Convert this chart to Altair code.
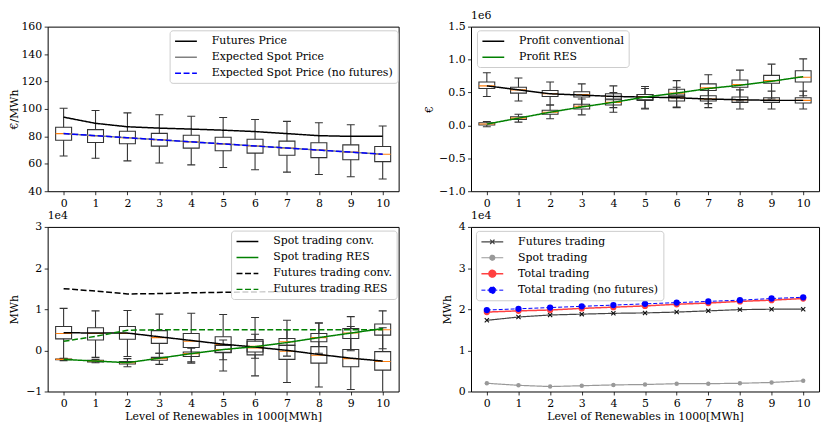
import altair as alt
import pandas as pd

levels = list(range(11))

# ---------- Panel 1: prices (EUR/MWh)
futures_price = [94.0, 89.5, 87.0, 86.0, 85.3, 84.5, 83.5, 82.0, 80.5, 80.0, 80.0]
expected_spot = [82.0, 80.5, 79.0, 77.5, 76.0, 74.5, 73.0, 71.5, 70.0, 68.5, 67.0]
expected_spot_nofut = [82.0, 80.5, 79.0, 77.5, 76.0, 74.5, 73.0, 71.5, 70.0, 68.5, 67.0]
price_med = [82.0, 80.5, 79.0, 77.5, 76.0, 74.5, 73.0, 71.5, 70.0, 68.5, 67.0]
price_q1 = [77.2, 75.5, 74.6, 72.9, 71.4, 69.5, 67.8, 66.2, 64.5, 63.0, 61.6]
price_q3 = [86.6, 84.9, 83.7, 82.2, 80.8, 79.4, 77.9, 76.5, 75.3, 73.8, 72.6]
price_lo = [65.7, 64.0, 62.1, 60.6, 59.2, 57.3, 55.6, 53.9, 52.2, 50.6, 48.9]
price_hi = [100.5, 98.8, 97.1, 95.7, 94.7, 93.8, 92.3, 90.9, 89.9, 88.5, 87.5]

# ---------- Panel 2: profits (in units of 1e6 EUR)
profit_conv = [0.60, 0.54, 0.48, 0.46, 0.44, 0.43, 0.42, 0.40, 0.39, 0.38, 0.38]
profit_res = [0.02, 0.11, 0.20, 0.28, 0.35, 0.43, 0.49, 0.56, 0.61, 0.67, 0.74]
pconv_med = [0.60, 0.54, 0.48, 0.47, 0.44, 0.43, 0.42, 0.40, 0.39, 0.38, 0.38]
pconv_q1 = [0.56, 0.49, 0.44, 0.43, 0.39, 0.38, 0.37, 0.37, 0.35, 0.35, 0.34]
pconv_q3 = [0.66, 0.58, 0.53, 0.51, 0.48, 0.47, 0.46, 0.45, 0.43, 0.42, 0.42]
pconv_lo = [0.44, 0.37, 0.31, 0.29, 0.27, 0.25, 0.27, 0.27, 0.25, 0.25, 0.25]
pconv_hi = [0.80, 0.72, 0.66, 0.63, 0.60, 0.59, 0.58, 0.56, 0.54, 0.52, 0.52]
pres_med = [0.02, 0.11, 0.20, 0.29, 0.35, 0.43, 0.49, 0.57, 0.62, 0.68, 0.73]
pres_q1 = [0.005, 0.09, 0.17, 0.25, 0.31, 0.39, 0.44, 0.53, 0.58, 0.64, 0.66]
pres_q3 = [0.04, 0.13, 0.23, 0.32, 0.40, 0.47, 0.55, 0.63, 0.69, 0.76, 0.83]
pres_lo = [-0.02, 0.05, 0.10, 0.16, 0.20, 0.26, 0.28, 0.33, 0.37, 0.40, 0.45]
pres_hi = [0.06, 0.17, 0.31, 0.40, 0.50, 0.56, 0.68, 0.77, 0.84, 0.93, 1.01]

# ---------- Panel 3: spot / futures trading per player (in units of 1e4 MWh)
spot_conv = [0.43, 0.42, 0.42, 0.33, 0.24, 0.15, 0.08, 0.00, -0.10, -0.19, -0.26]
spot_res = [-0.22, -0.26, -0.30, -0.19, -0.08, 0.02, 0.09, 0.19, 0.31, 0.42, 0.53]
fut_conv = [1.50, 1.44, 1.37, 1.38, 1.40, 1.41, 1.42, 1.43, 1.44, 1.45, 1.46]
fut_res = [0.22, 0.34, 0.49, 0.50, 0.50, 0.50, 0.50, 0.50, 0.50, 0.50, 0.50]
sconv_med = [0.41, 0.41, 0.41, 0.31, 0.22, 0.14, 0.06, -0.02, -0.12, -0.20, -0.27]
sconv_q1 = [0.28, 0.25, 0.27, 0.17, 0.07, -0.05, -0.11, -0.22, -0.31, -0.40, -0.48]
sconv_q3 = [0.58, 0.55, 0.58, 0.48, 0.41, 0.33, 0.26, 0.12, 0.09, 0.02, -0.03]
sconv_lo = [-0.20, -0.17, -0.15, -0.07, -0.28, -0.50, -0.62, -0.78, -0.89, -0.95, -1.10]
sconv_hi = [1.02, 0.96, 0.97, 0.88, 0.90, 0.87, 0.80, 0.73, 0.67, 0.58, 0.55]
sres_med = [-0.22, -0.26, -0.30, -0.20, -0.08, 0.02, 0.10, 0.21, 0.31, 0.42, 0.50]
sres_q1 = [-0.23, -0.28, -0.33, -0.24, -0.15, -0.06, -0.04, 0.12, 0.21, 0.29, 0.37]
sres_q3 = [-0.21, -0.24, -0.27, -0.17, -0.04, 0.12, 0.22, 0.29, 0.41, 0.53, 0.64]
sres_lo = [-0.25, -0.30, -0.40, -0.34, -0.31, -0.23, -0.19, -0.14, -0.07, -0.01, 0.04]
sres_hi = [-0.19, -0.22, -0.20, -0.07, 0.05, 0.25, 0.39, 0.50, 0.66, 0.82, 0.96]

# ---------- Panel 4: market volumes (in units of 1e4 MWh)
futures_trading = [1.73, 1.81, 1.86, 1.88, 1.90, 1.91, 1.93, 1.96, 1.99, 2.00, 2.00]
spot_trading = [0.20, 0.15, 0.12, 0.14, 0.16, 0.17, 0.19, 0.19, 0.20, 0.22, 0.26]
total_trading = [1.93, 1.96, 1.98, 2.02, 2.05, 2.08, 2.12, 2.15, 2.19, 2.22, 2.26]
total_nofut = [1.98, 2.01, 2.04, 2.07, 2.10, 2.13, 2.16, 2.19, 2.22, 2.26, 2.29]

FONT = "DejaVu Serif"
FS = 11
XS = alt.Scale(domain=[-0.5, 10.5], nice=False, zero=False)
EDGE = "#333333"
MED = "#ff7f0e"
DASH = [6, 2.6]
SOLID = [1, 0]
XTITLE = "Level of Renewables in 1000[MWh]"
ROWPAD = 4.1
LEGY = 3.7
HANDLE = "M-2,0H2"
INDEP = dict(color="independent", strokeDash="independent", strokeWidth="independent",
             shape="independent")


def xaxis(title):
    return alt.Axis(values=levels, format="d", title=title, titlePadding=2)


def yaxis(title, values, fmt, tpad):
    return alt.Axis(values=values, format=fmt, title=title, titlePadding=tpad)


def box_layers(med, q1, q3, lo, hi, xax, yax, ysc):
    df = pd.DataFrame({"level": levels, "med": med, "q1": q1, "q3": q3, "lo": lo, "hi": hi})
    base = alt.Chart(df).transform_calculate(
        xl="datum.level - 0.25", xr="datum.level + 0.25",
        cl="datum.level - 0.125", cr="datum.level + 0.125")

    def X(f):
        return alt.X(f + ":Q", scale=XS, axis=xax)

    def Y(f):
        return alt.Y(f + ":Q", scale=ysc, axis=yax)

    box = base.mark_rect(fillOpacity=0, stroke=EDGE, strokeWidth=1.1, clip=True).encode(
        x=X("xl"), x2=alt.X2("xr"), y=Y("q1"), y2=alt.Y2("q3"))
    wu = base.mark_rule(color=EDGE, strokeWidth=1.1, clip=True).encode(
        x=X("level"), y=Y("q3"), y2=alt.Y2("hi"))
    wd = base.mark_rule(color=EDGE, strokeWidth=1.1, clip=True).encode(
        x=X("level"), y=Y("lo"), y2=alt.Y2("q1"))
    ch = base.mark_rule(color=EDGE, strokeWidth=1.1, clip=True).encode(
        x=X("cl"), x2=alt.X2("cr"), y=Y("hi"))
    cl = base.mark_rule(color=EDGE, strokeWidth=1.1, clip=True).encode(
        x=X("cl"), x2=alt.X2("cr"), y=Y("lo"))
    md = base.mark_rule(color=MED, strokeWidth=1.1, clip=True).encode(
        x=X("xl"), x2=alt.X2("xr"), y=Y("med"))
    return [box, wu, wd, ch, cl, md]


def long_df(names, arrays):
    rows = []
    for n, arr in zip(names, arrays):
        for lv, v in zip(levels, arr):
            rows.append({"level": lv, "value": v, "series": n})
    return pd.DataFrame(rows)


def make_legend(x, y, **kw):
    opts = dict(title=None, orient="none", legendX=x, legendY=y, symbolType=HANDLE,
                symbolSize=121, symbolOffset=5.5, labelFont=FONT, labelFontSize=FS,
                labelColor="black", labelOffset=19.5, padding=4.5, rowPadding=ROWPAD,
                labelLimit=400, fillColor="rgba(255,255,255,0.8)", strokeColor="#cccccc",
                cornerRadius=3)
    opts.update(kw)
    return alt.Legend(**opts)


def line_layer(names, arrays, colors, dashes, xax, yax, ysc, leg, widths=None, sw=1.5):
    df = long_df(names, arrays)
    enc = dict(
        x=alt.X("level:Q", scale=XS, axis=xax),
        y=alt.Y("value:Q", scale=ysc, axis=yax),
        color=alt.Color("series:N", scale=alt.Scale(domain=names, range=colors), legend=leg),
        strokeDash=alt.StrokeDash("series:N", scale=alt.Scale(domain=names, range=dashes), legend=leg),
    )
    if widths is not None:
        enc["strokeWidth"] = alt.StrokeWidth(
            "series:N", scale=alt.Scale(type="ordinal", domain=names, range=widths), legend=leg)
        return alt.Chart(df).mark_line(clip=True).encode(**enc)
    return alt.Chart(df).mark_line(clip=True, strokeWidth=sw).encode(**enc)


def title_params(text):
    return alt.TitleParams(text, anchor="start", frame="group", font=FONT, fontSize=FS,
                           fontWeight="normal", color="black", offset=0)


def titled(layers, text, w, h):
    return alt.layer(*layers).properties(width=w, height=h, title=title_params(text))


W_L, W_R, H = 354, 351, 166

# ---- top-left
xa = xaxis(None)
ya = yaxis("€/MWh", [40, 60, 80, 100, 120, 140, 160], "d", 1)
ys = alt.Scale(domain=[40, 160], nice=False, zero=False)
n1 = ["Futures Price", "Expected Spot Price", "Expected Spot Price (no futures)"]
tl_lines = line_layer(n1, [futures_price, expected_spot, expected_spot_nofut],
                      ["#000000", "#808080", "#0000ff"], [SOLID, SOLID, DASH],
                      xa, ya, ys, make_legend(123, LEGY))
tl = titled(box_layers(price_med, price_q1, price_q3, price_lo, price_hi, xa, ya, ys) + [tl_lines],
            " ", W_L, H)

# ---- top-right
ya = yaxis("€", [-1.0, -0.5, 0.0, 0.5, 1.0, 1.5], ".1f", 4)
ys = alt.Scale(domain=[-1.0, 1.5], nice=False, zero=False)
n2 = ["Profit conventional", "Profit RES"]
tr_lines = line_layer(n2, [profit_conv, profit_res], ["#000000", "#008000"], [SOLID, SOLID],
                      xa, ya, ys, make_legend(6, LEGY))
tr = titled(box_layers(pconv_med, pconv_q1, pconv_q3, pconv_lo, pconv_hi, xa, ya, ys)
            + box_layers(pres_med, pres_q1, pres_q3, pres_lo, pres_hi, xa, ya, ys)
            + [tr_lines], "1e6", W_R, H)

# ---- bottom-left
xa = xaxis(XTITLE)
ya = yaxis("MWh", [-1, 0, 1, 2, 3], "d", 6)
ys = alt.Scale(domain=[-1, 3], nice=False, zero=False)
n3 = ["Spot trading conv.", "Spot trading RES", "Futures trading conv.", "Futures trading RES"]
bl_lines = line_layer(n3, [spot_conv, spot_res, fut_conv, fut_res],
                      ["#000000", "#008000", "#000000", "#008000"], [SOLID, SOLID, DASH, DASH],
                      xa, ya, ys, make_legend(185, LEGY))
bl = titled(box_layers(sconv_med, sconv_q1, sconv_q3, sconv_lo, sconv_hi, xa, ya, ys)
            + box_layers(sres_med, sres_q1, sres_q3, sres_lo, sres_hi, xa, ya, ys)
            + [bl_lines], "1e4", W_L, H)

# ---- bottom-right
ya = yaxis("MWh", [0, 1, 2, 3, 4], "d", 6)
ys = alt.Scale(domain=[0, 4], nice=False, zero=False)
n4 = ["Futures trading", "Spot trading", "Total trading", "Total trading (no futures)"]
arr4 = [futures_trading, spot_trading, total_trading, total_nofut]
c4 = ["#444444", "#999999", "#ff4040", "#0000ff"]
cscale4 = alt.Scale(domain=n4, range=c4)
br_leg = make_legend(5, 4)
br_lines = line_layer(n4, arr4, c4, [SOLID, SOLID, SOLID, [4, 2]], xa, ya, ys, br_leg,
                      widths=[1.2, 1.2, 1.5, 1.0])
LEG_SHAPES = [
    "M-2,0H2M-0.4,-0.4L0.4,0.4M-0.4,0.4L0.4,-0.4",
    "M-2,0H2M-0.45,0A0.45,0.45,0,1,1,0.45,0A0.45,0.45,0,1,1,-0.45,0Z",
    "M-2,0H2M-0.62,0A0.62,0.62,0,1,1,0.62,0A0.62,0.62,0,1,1,-0.62,0Z",
    "M-2,0H2M-0.62,0A0.62,0.62,0,1,1,0.62,0A0.62,0.62,0,1,1,-0.62,0Z",
]
df4 = long_df(n4, arr4)
XEN = alt.X("level:Q", scale=XS, axis=xa)
YEN = alt.Y("value:Q", scale=ys, axis=ya)
# legend-only layer (no rows drawn): supplies the per-entry marker shapes of the legend
br_leg_shapes = alt.Chart(df4).transform_filter("false").mark_point(filled=True, opacity=1).encode(
    x=XEN, y=YEN,
    color=alt.Color("series:N", scale=cscale4, legend=br_leg),
    shape=alt.Shape("series:N", scale=alt.Scale(domain=n4, range=LEG_SHAPES), legend=br_leg),
)
br_x = alt.Chart(df4).transform_filter(alt.datum.series == n4[0]).mark_point(
    shape="M-1,-1L1,1M-1,1L1,-1", size=18, color="#111111", strokeWidth=1.1, opacity=1, clip=True
).encode(x=XEN, y=YEN)
br_spot = alt.Chart(df4).transform_filter(alt.datum.series == n4[1]).mark_circle(
    size=20, opacity=1, clip=True).encode(
    x=XEN, y=YEN, color=alt.Color("series:N", scale=cscale4, legend=None))
br_tot = alt.Chart(df4).transform_filter(
    (alt.datum.series == n4[2]) | (alt.datum.series == n4[3])).mark_circle(
    size=40, opacity=1, clip=True).encode(
    x=XEN, y=YEN, color=alt.Color("series:N", scale=cscale4, legend=None))
br = alt.layer(br_lines, br_leg_shapes, br_x, br_spot, br_tot).properties(
    width=W_R, height=H, title=title_params("1e4"))

row1 = alt.hconcat(tl, tr, spacing=23).resolve_scale(**INDEP)
row2 = alt.hconcat(bl, br, spacing=41).resolve_scale(**INDEP)
chart = alt.vconcat(row1, row2, spacing=0).resolve_scale(**INDEP).properties(
    padding={"left": 0, "top": -1, "right": 2, "bottom": 2}
).configure(font=FONT).configure_view(stroke="black", strokeWidth=1).configure_axis(
    labelFont=FONT, titleFont=FONT, labelFontSize=FS, titleFontSize=FS, titleFontWeight="normal",
    labelColor="black", titleColor="black", tickColor="black", domain=False, grid=False,
    tickSize=3.5, tickWidth=0.8, labelPadding=2.5
).configure_legend(labelFont=FONT, labelFontSize=FS)

chart.save("out.html", embed_options={"renderer": "svg", "actions": False})
